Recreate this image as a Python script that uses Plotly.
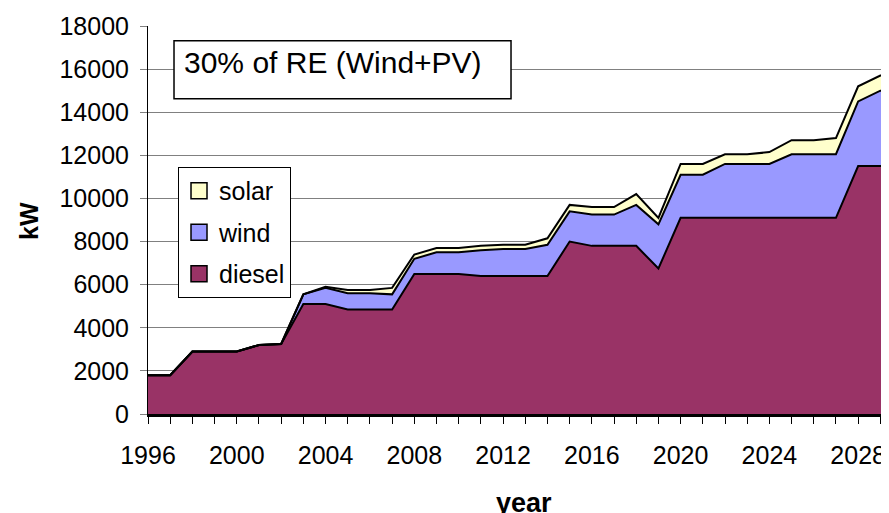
import plotly.graph_objects as go

years = list(range(1996, 2031))
diesel = [1800, 1800, 2900, 2900, 2900, 3200, 3250, 5100, 5100, 4850,
          4850, 4850, 6500, 6500, 6500, 6400, 6400, 6400, 6400, 8000,
          7800, 7800, 7800, 6750, 9100, 9100, 9100, 9100, 9100, 9100,
          9100, 9100, 11500, 11500, 11500]
wind = [0, 0, 0, 0, 0, 0, 0, 450, 750, 750,
        750, 700, 700, 1000, 1000, 1200, 1250, 1250, 1450, 1400,
        1450, 1450, 1900, 2050, 2000, 2000, 2500, 2500, 2500, 2950,
        2950, 2950, 3000, 3500, 3500]
solar = [0, 0, 0, 0, 0, 0, 0, 0, 50, 150,
         150, 300, 200, 200, 200, 200, 200, 200, 300, 300,
         350, 350, 500, 300, 500, 500, 450, 450, 550, 650,
         650, 750, 700, 700, 800]

series = [("diesel", diesel, "#993366"), ("wind", wind, "#9999FF"), ("solar", solar, "#FFFFCC")]
font = "Arial, Liberation Sans, sans-serif"

fig = go.Figure()
for name, vals, color in series:
    fig.add_trace(go.Scatter(
        x=years, y=vals, name=name, stackgroup="one", mode="lines",
        line=dict(color="black", width=2), fillcolor=color, showlegend=False,
    ))

# legend entries with square swatches, solar on top
for name, vals, color in reversed(series):
    fig.add_trace(go.Scatter(
        x=[None], y=[None], name=name, mode="markers", legendgroup=name,
        marker=dict(symbol="square", size=16, color=color, line=dict(color="black", width=1.5)),
    ))

fig.add_shape(type="rect", xref="paper", yref="paper", x0=0.0351, x1=0.4899, y0=0.8126, y1=0.9621,
              line=dict(color="black", width=1.5), fillcolor="white", layer="above")
fig.add_annotation(text="30% of RE (Wind+PV)", xref="paper", yref="paper", x=0.046, y=0.906,
                   xanchor="left", yanchor="middle", showarrow=False, font=dict(size=30, color="black"))

# axis titles
fig.add_annotation(text="<b>kW</b>", xref="paper", yref="paper", x=-0.1606, y=0.4974,
                   xanchor="center", yanchor="middle", textangle=-90, showarrow=False,
                   font=dict(size=25, color="black"))
fig.add_annotation(text="<b>year</b>", xref="paper", yref="paper", x=0.5074, y=-0.2294,
                   xanchor="center", yanchor="middle", showarrow=False, font=dict(size=27, color="black"))

# page body keeps an 8px margin, so the figure is 8px smaller each way
fig.update_layout(
    width=881, height=505,
    margin=dict(l=140, r=0, t=18, b=99),
    paper_bgcolor="white", plot_bgcolor="white",
    font=dict(family=font, size=25, color="black"),
    legend=dict(x=0.0405, y=0.6366, xanchor="left", yanchor="top", bgcolor="white",
                bordercolor="black", borderwidth=1, font=dict(size=25),
                traceorder="grouped", tracegroupgap=6),
)
fig.update_xaxes(
    range=[1996, 2029.39], tickmode="linear", tick0=1996, dtick=4, automargin=False,
    ticks="outside", ticklen=7, tickcolor="black", ticklabelstandoff=10,
    minor=dict(dtick=1, tick0=1996, ticks="outside", ticklen=7, tickcolor="black"),
    showline=True, linecolor="black", linewidth=3, showgrid=False, zeroline=False,
)
fig.update_yaxes(
    range=[0, 18000], tickmode="linear", dtick=2000, tickformat="d", automargin=False,
    ticks="outside", ticklen=7, tickcolor="#808080", ticklabelstandoff=6,
    showline=True, linecolor="black", linewidth=1,
    showgrid=True, gridcolor="#808080", gridwidth=1, zeroline=False,
)

fig.write_html("out.html")
